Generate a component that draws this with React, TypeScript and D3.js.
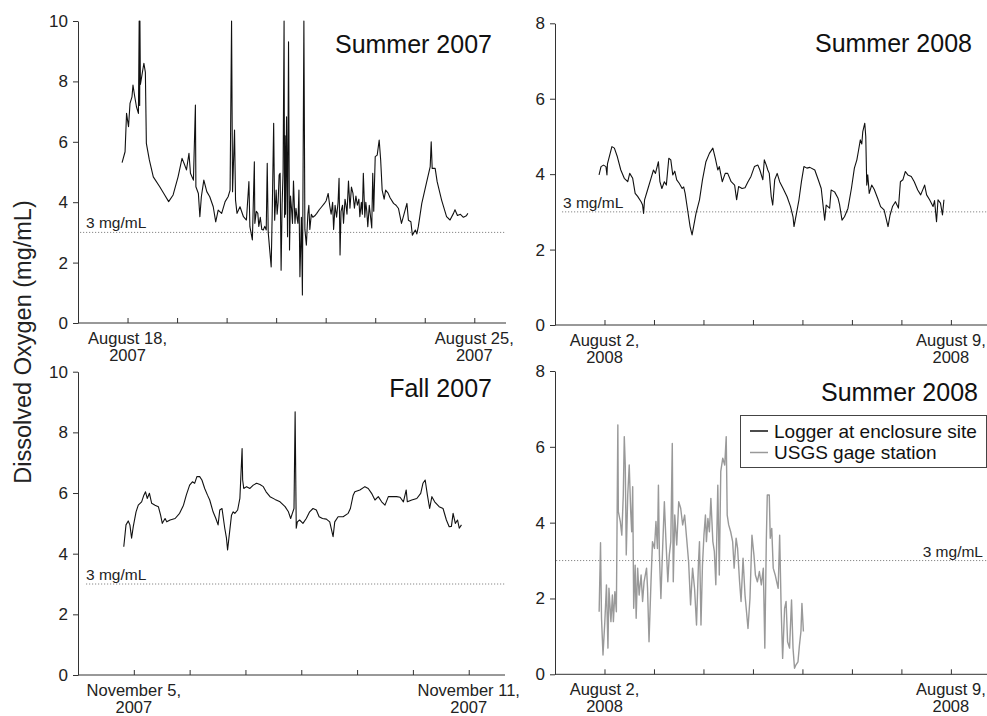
import React, { useEffect, useRef } from 'react';
import { select, scaleLinear, axisLeft, axisBottom, line } from 'd3';

const W = 987;
const H = 716;
const FONT = '"Liberation Sans", Arial, Helvetica, sans-serif';

// [days after first labelled date, dissolved oxygen mg/mL]
const summer2007Logger: [number, number][] = [
  [-0.11, 5.31], [-0.05, 5.67], [-0.02, 6.94], [0.02, 6.5], [0.05, 7.27], [0.09, 7.49], [0.11, 7.88],
  [0.14, 7.55], [0.18, 7.16], [0.22, 6.94], [0.235, 10], [0.245, 7.2], [0.25, 10], [0.26, 7.9],
  [0.33, 8.6], [0.36, 8.3], [0.38, 5.95], [0.44, 5.4], [0.52, 4.84], [0.65, 4.51], [0.75, 4.24],
  [0.83, 4.02], [0.92, 4.24], [1.02, 4.84], [1.1, 5.45], [1.14, 5.29], [1.19, 5.07], [1.24, 5.62],
  [1.27, 4.96], [1.33, 4.73], [1.37, 7.22], [1.38, 4.51], [1.43, 4.29], [1.46, 3.52], [1.49, 4.18],
  [1.54, 4.73], [1.6, 4.35], [1.66, 4.18], [1.73, 3.85], [1.78, 3.35], [1.83, 3.74], [1.9, 3.63],
  [1.97, 4.02], [2.03, 4.18], [2.07, 4.4], [2.1, 10], [2.12, 4.35], [2.16, 6.39], [2.18, 4.07],
  [2.21, 3.63], [2.27, 3.85], [2.34, 3.52], [2.4, 3.41], [2.45, 4.68], [2.47, 3.19], [2.52, 2.75],
  [2.56, 5.34], [2.57, 3.3], [2.6, 3.7], [2.63, 3.63], [2.65, 3.2], [2.68, 3.5], [2.71, 3.1],
  [2.74, 3.08], [2.77, 3.2], [2.8, 3.08], [2.82, 5.29], [2.84, 3.0], [2.87, 2.42], [2.9, 1.86],
  [2.92, 3.6], [2.95, 6.61], [2.97, 3.4], [3.0, 4.4], [3.02, 3.6], [3.04, 4.0], [3.06, 4.9],
  [3.08, 4.96], [3.1, 1.75], [3.12, 3.9], [3.14, 5.0], [3.16, 10], [3.17, 3.5], [3.18, 6.2],
  [3.19, 3.6], [3.21, 6.83], [3.23, 2.86], [3.25, 9.31], [3.27, 2.42], [3.29, 4.2], [3.31, 3.8],
  [3.33, 3.3], [3.35, 4.7], [3.38, 3.3], [3.4, 3.8], [3.42, 3.5], [3.44, 3.3], [3.46, 4.4],
  [3.48, 1.53], [3.51, 3.5], [3.53, 0.93], [3.56, 10], [3.58, 3.1], [3.61, 2.58], [3.64, 3.6],
  [3.66, 3.9], [3.68, 3.1], [3.71, 3.6], [3.74, 3.5], [3.78, 3.55], [3.82, 3.63], [3.87, 3.75],
  [3.92, 3.85], [3.97, 3.95], [4.01, 4.05], [4.05, 4.29], [4.08, 3.9], [4.11, 3.6], [4.14, 4.0],
  [4.16, 3.1], [4.19, 3.9], [4.22, 3.5], [4.25, 4.0], [4.27, 4.79], [4.29, 2.25], [4.31, 3.7],
  [4.34, 3.9], [4.36, 3.3], [4.39, 4.1], [4.41, 3.9], [4.43, 3.6], [4.46, 4.7], [4.49, 3.8],
  [4.52, 4.5], [4.55, 4.3], [4.58, 3.8], [4.61, 4.2], [4.64, 3.9], [4.67, 4.1], [4.69, 3.52],
  [4.72, 4.0], [4.74, 3.6], [4.76, 4.96], [4.79, 3.5], [4.81, 4.0], [4.83, 3.7], [4.85, 3.19],
  [4.88, 3.9], [4.9, 3.6], [4.93, 3.15], [4.95, 4.96], [4.97, 3.7], [5.0, 5.51], [5.04, 5.56],
  [5.08, 6.06], [5.11, 5.4], [5.14, 4.4], [5.18, 4.1], [5.21, 4.4], [5.26, 4.3], [5.3, 4.15],
  [5.37, 3.96], [5.42, 3.9], [5.47, 3.79], [5.53, 3.3], [5.58, 3.6], [5.64, 3.96], [5.67, 3.4],
  [5.72, 3.35], [5.75, 2.91], [5.81, 3.08], [5.84, 2.95], [5.87, 3.19], [5.94, 3.96], [6.04, 4.68],
  [6.11, 5.18], [6.13, 6.0], [6.15, 5.12], [6.21, 5.12], [6.25, 4.68], [6.34, 4.07], [6.44, 3.52],
  [6.51, 3.41], [6.58, 3.63], [6.61, 3.75], [6.66, 3.56], [6.72, 3.6], [6.78, 3.5], [6.84, 3.55],
  [6.87, 3.63],
];

const summer2008Logger: [number, number][] = [
  [-0.11, 3.98], [-0.07, 4.2], [-0.02, 4.24], [0.03, 4.2], [0.05, 3.98], [0.06, 4.27], [0.15, 4.73],
  [0.2, 4.69], [0.26, 4.46], [0.33, 4.11], [0.4, 3.89], [0.47, 3.8], [0.51, 4.02], [0.57, 3.89],
  [0.62, 3.49], [0.67, 3.41], [0.74, 3.27], [0.77, 3.18], [0.79, 2.96], [0.81, 3.32], [0.87, 3.58],
  [0.94, 3.89], [0.99, 4.11], [1.03, 4.02], [1.09, 4.33], [1.12, 3.8], [1.16, 3.62], [1.21, 3.8],
  [1.25, 3.71], [1.3, 4.42], [1.34, 4.38], [1.38, 3.98], [1.42, 4.08], [1.46, 3.85], [1.51, 3.76],
  [1.57, 3.62], [1.6, 3.66], [1.63, 3.49], [1.68, 3.05], [1.73, 2.61], [1.77, 2.39], [1.8, 2.6],
  [1.85, 2.96], [1.92, 3.32], [1.98, 3.85], [2.05, 4.33], [2.12, 4.55], [2.19, 4.69], [2.24, 4.42],
  [2.29, 4.11], [2.32, 4.2], [2.38, 3.8], [2.44, 4.02], [2.49, 4.02], [2.56, 3.8], [2.63, 3.71],
  [2.67, 3.32], [2.71, 3.67], [2.78, 3.62], [2.84, 3.64], [2.9, 3.8], [2.96, 3.94], [3.03, 4.2],
  [3.1, 4.24], [3.14, 4.11], [3.2, 3.85], [3.23, 4.38], [3.27, 4.24], [3.3, 4.11], [3.33, 4.02],
  [3.37, 3.4], [3.4, 3.18], [3.44, 3.85], [3.49, 4.02], [3.54, 3.8], [3.61, 3.62], [3.69, 3.4],
  [3.76, 3.14], [3.81, 2.87], [3.83, 2.61], [3.88, 2.96], [3.93, 3.32], [3.98, 3.8], [4.03, 4.2],
  [4.09, 4.16], [4.15, 4.18], [4.25, 4.11], [4.32, 3.85], [4.38, 3.62], [4.42, 3.14], [4.45, 2.78],
  [4.48, 3.18], [4.55, 3.1], [4.58, 3.58], [4.65, 3.53], [4.72, 3.36], [4.75, 3.2], [4.8, 2.78],
  [4.85, 2.87], [4.92, 3.09], [4.99, 3.62], [5.05, 4.16], [5.1, 4.38], [5.13, 4.6], [5.17, 4.91],
  [5.2, 4.8], [5.22, 5.13], [5.26, 5.35], [5.28, 5.0], [5.3, 3.71], [5.32, 3.98], [5.35, 3.49],
  [5.4, 3.71], [5.45, 3.6], [5.52, 3.36], [5.58, 3.14], [5.65, 3.05], [5.73, 2.61], [5.77, 2.91],
  [5.82, 3.14], [5.88, 3.27], [5.94, 3.1], [5.98, 3.8], [6.03, 3.85], [6.08, 4.07], [6.13, 3.98],
  [6.2, 3.94], [6.26, 3.8], [6.33, 3.58], [6.39, 3.45], [6.47, 3.71], [6.51, 3.45], [6.57, 3.32],
  [6.64, 3.14], [6.67, 3.3], [6.71, 2.74], [6.74, 3.32], [6.79, 3.23], [6.83, 2.92], [6.86, 3.32],
];

const fall2007Logger: [number, number][] = [
  [-0.18, 4.23], [-0.14, 4.95], [-0.1, 5.08], [-0.07, 4.95], [-0.04, 4.51], [-0.01, 4.89], [0.04, 5.38],
  [0.08, 5.6], [0.14, 5.71], [0.18, 5.93], [0.21, 6.04], [0.24, 5.82], [0.28, 5.99], [0.32, 5.66],
  [0.38, 5.6], [0.44, 5.55], [0.48, 5.27], [0.51, 5.0], [0.56, 5.16], [0.59, 5.05], [0.65, 5.11],
  [0.74, 5.16], [0.82, 5.33], [0.89, 5.6], [0.94, 5.93], [1.0, 6.26], [1.05, 6.37], [1.09, 6.32],
  [1.13, 6.54], [1.18, 6.54], [1.22, 6.43], [1.27, 6.15], [1.32, 5.93], [1.36, 5.77], [1.42, 5.38],
  [1.47, 5.16], [1.51, 4.95], [1.54, 5.44], [1.58, 5.49], [1.63, 4.83], [1.66, 4.51], [1.68, 4.12],
  [1.71, 4.62], [1.75, 5.27], [1.78, 5.38], [1.81, 5.33], [1.86, 5.44], [1.9, 5.82], [1.94, 7.47],
  [1.95, 6.43], [1.97, 6.15], [2.02, 6.21], [2.08, 6.15], [2.14, 6.26], [2.2, 6.32], [2.26, 6.28],
  [2.32, 6.21], [2.37, 6.04], [2.44, 5.88], [2.53, 5.79], [2.62, 5.71], [2.71, 5.55], [2.77, 5.38],
  [2.81, 5.16], [2.84, 5.33], [2.87, 5.49], [2.89, 8.68], [2.91, 4.84], [2.93, 5.05], [2.97, 5.11],
  [3.03, 5.0], [3.09, 5.16], [3.15, 5.38], [3.21, 5.49], [3.27, 5.44], [3.32, 5.22], [3.38, 5.16],
  [3.45, 5.14], [3.51, 5.05], [3.57, 4.56], [3.6, 5.05], [3.66, 5.22], [3.75, 5.22], [3.84, 5.33],
  [3.88, 5.49], [3.93, 5.93], [3.96, 6.04], [4.05, 6.1], [4.14, 6.21], [4.2, 6.15], [4.26, 5.99],
  [4.32, 5.77], [4.38, 5.88], [4.44, 5.71], [4.5, 5.6], [4.56, 5.88], [4.62, 5.88], [4.71, 5.88],
  [4.77, 5.86], [4.83, 5.71], [4.88, 6.1], [4.9, 5.71], [4.98, 5.77], [5.07, 5.82], [5.14, 5.99],
  [5.18, 6.32], [5.22, 6.43], [5.26, 5.93], [5.3, 5.49], [5.34, 5.88], [5.39, 5.71], [5.47, 5.55],
  [5.54, 5.49], [5.6, 5.11], [5.65, 4.89], [5.69, 4.9], [5.72, 5.33], [5.76, 5.0], [5.8, 5.11],
  [5.83, 4.84], [5.87, 4.95],
];

const summer2008Usgs: [number, number][] = [
  [-0.108, 1.65], [-0.08, 3.47], [-0.06, 1.48], [-0.03, 0.51], [0.007, 1.39], [0.04, 2.36], [0.07, 0.69],
  [0.09, 2.27], [0.13, 1.39], [0.16, 2.09], [0.18, 1.39], [0.21, 2.18], [0.24, 1.65], [0.27, 6.58],
  [0.28, 4.29], [0.32, 4.03], [0.35, 3.67], [0.38, 4.73], [0.4, 6.27], [0.42, 5.52], [0.44, 3.15],
  [0.47, 4.73], [0.5, 5.52], [0.53, 4.29], [0.55, 3.76], [0.57, 4.95], [0.59, 1.74], [0.62, 2.88],
  [0.64, 1.48], [0.67, 2.8], [0.7, 2.09], [0.74, 2.62], [0.77, 1.92], [0.8, 2.44], [0.85, 2.8],
  [0.87, 2.27], [0.9, 0.86], [0.94, 2.44], [0.97, 3.5], [1.01, 3.32], [1.04, 4.03], [1.07, 3.32],
  [1.09, 4.99], [1.11, 3.15], [1.14, 2.0], [1.17, 3.15], [1.21, 4.55], [1.24, 3.59], [1.28, 2.44],
  [1.31, 3.15], [1.34, 3.5], [1.37, 6.09], [1.39, 2.44], [1.42, 4.2], [1.46, 3.41], [1.5, 4.55],
  [1.54, 4.38], [1.58, 3.94], [1.62, 4.2], [1.66, 3.59], [1.7, 2.97], [1.74, 1.83], [1.78, 2.8],
  [1.82, 2.27], [1.86, 1.3], [1.9, 2.97], [1.92, 3.5], [1.95, 1.3], [1.98, 2.88], [2.01, 3.67],
  [2.04, 4.2], [2.06, 3.5], [2.09, 4.11], [2.12, 3.76], [2.15, 4.64], [2.19, 3.5], [2.22, 3.24],
  [2.25, 2.36], [2.29, 4.99], [2.32, 2.62], [2.35, 5.35], [2.39, 5.7], [2.43, 5.52], [2.46, 6.27],
  [2.48, 4.2], [2.51, 3.94], [2.55, 3.76], [2.59, 3.5], [2.62, 2.8], [2.66, 3.59], [2.69, 3.32],
  [2.73, 2.44], [2.76, 1.92], [2.8, 3.06], [2.84, 2.09], [2.87, 1.65], [2.9, 1.21], [2.94, 2.0],
  [2.98, 3.67], [3.02, 3.15], [3.05, 2.62], [3.09, 2.44], [3.13, 2.71], [3.17, 2.36], [3.21, 2.8],
  [3.24, 0.69], [3.27, 3.5], [3.29, 4.73], [3.33, 4.73], [3.35, 3.59], [3.38, 3.85], [3.41, 2.8],
  [3.45, 2.62], [3.48, 2.44], [3.51, 2.27], [3.54, 3.67], [3.57, 1.74], [3.6, 0.42], [3.64, 1.74],
  [3.67, 1.92], [3.7, 0.86], [3.74, 0.69], [3.78, 1.96], [3.81, 0.69], [3.84, 0.16], [3.87, 0.25],
  [3.91, 0.33], [3.94, 0.77], [3.97, 1.13], [3.99, 1.87], [4.02, 1.13],
];

const yTicks10 = [0, 2, 4, 6, 8, 10];
const yTicks8 = [0, 2, 4, 6, 8];
const dayTicks7 = [0, 1, 2, 3, 4, 5, 6, 7];
const dayTicks6 = [0, 1, 2, 3, 4, 5, 6];
const thresholdValue = 3;
const thresholdLabel = '3 mg/mL';
const legendLabels = ['Logger at enclosure site', 'USGS gage station'];

const panels = [
  {
    title: 'Summer 2007', data: summer2007Logger, color: '#111', width: 1.1,
    x0: 78, x1: 506, dEnd: 7.64, yTop: 21, yBot: 323, yMax: 10, yTicks: yTicks10, dTicks: dayTicks7,
    firstLabel: ['August 18,', '2007'], lastLabel: ['August 25,', '2007'],
    titleX: 492, titleY: 53, labelX: 86, labelAnchor: 'start', dashStart: 80,
  },
  {
    title: 'Summer 2008', data: summer2008Logger, color: '#111', width: 1.1,
    x0: 555, x1: 987, dEnd: 7.73, yTop: 23.3, yBot: 325, yMax: 8, yTicks: yTicks8, dTicks: dayTicks7,
    firstLabel: ['August 2,', '2008'], lastLabel: ['August 9,', '2008'],
    titleX: 972, titleY: 52, labelX: 563, labelAnchor: 'start', dashStart: 562,
  },
  {
    title: 'Fall 2007', data: fall2007Logger, color: '#111', width: 1.1,
    x0: 78, x1: 505, dEnd: 6.65, yTop: 371.7, yBot: 675, yMax: 10, yTicks: yTicks10, dTicks: dayTicks6,
    firstLabel: ['November 5,', '2007'], lastLabel: ['November 11,', '2007'],
    titleX: 492, titleY: 397, labelX: 86, labelAnchor: 'start', dashStart: 86,
  },
  {
    title: 'Summer 2008', data: summer2008Usgs, color: '#999', width: 1.4,
    x0: 555, x1: 987, dEnd: 7.73, yTop: 371, yBot: 674.3, yMax: 8, yTicks: yTicks8, dTicks: dayTicks7,
    firstLabel: ['August 2,', '2008'], lastLabel: ['August 9,', '2008'],
    titleX: 978, titleY: 401, labelX: 983, labelAnchor: 'end', dashStart: 556,
  },
];

const App = () => {
  const svgRef = useRef<SVGSVGElement>(null);

  useEffect(() => {
    const svg = select(svgRef.current);
    svg.selectAll('*').remove();

    panels.forEach((p, i) => {
      const g = svg.append('g');
      const x = scaleLinear().domain([-1, p.dEnd]).range([p.x0, p.x1]);
      const y = scaleLinear().domain([0, p.yMax]).range([p.yBot, p.yTop]);

      // threshold line
      g.append('line')
        .attr('x1', p.dashStart).attr('x2', p.x1)
        .attr('y1', y(thresholdValue)).attr('y2', y(thresholdValue))
        .attr('stroke', '#888').attr('stroke-width', 1).attr('stroke-dasharray', '1.2,1.8');
      g.append('text')
        .attr('x', p.labelX).attr('y', y(thresholdValue) - 4)
        .attr('text-anchor', p.labelAnchor)
        .attr('font-size', 15.5).attr('font-family', FONT).attr('fill', '#222')
        .text(thresholdLabel);

      // series
      const gen = line<[number, number]>().x(d => x(d[0])).y(d => y(d[1]));
      g.append('path')
        .attr('d', gen(p.data))
        .attr('fill', 'none')
        .attr('stroke', p.color)
        .attr('stroke-width', p.width)
        .attr('stroke-linejoin', 'round');

      // y axis
      const ya = g.append('g')
        .attr('transform', `translate(${p.x0},0)`)
        .call(axisLeft(y).tickValues(p.yTicks).tickSize(5).tickSizeOuter(0).tickPadding(5));
      ya.selectAll('text').attr('font-size', 17).attr('font-family', FONT).attr('fill', '#222');

      // x axis, ticks pointing up
      const xa = g.append('g')
        .attr('transform', `translate(0,${p.yBot})`)
        .call(axisBottom(x).tickValues(p.dTicks).tickSizeInner(-5).tickSizeOuter(0).tickFormat(() => ''));
      [ya, xa].forEach(a => {
        a.selectAll('path, line').attr('stroke', '#333');
      });
      xa.select('.domain').attr('d', `M${p.x0},0H${p.x1}`);

      const lab = (d: number, lines: string[]) => {
        const t = g.append('text')
          .attr('x', x(d)).attr('y', p.yBot + 21)
          .attr('text-anchor', 'middle')
          .attr('font-size', 16.5).attr('font-family', FONT).attr('fill', '#222');
        lines.forEach((s, k) => {
          t.append('tspan').attr('x', x(d)).attr('dy', k === 0 ? 0 : 17).text(s);
        });
      };
      lab(p.dTicks[0], p.firstLabel);
      lab(p.dTicks[p.dTicks.length - 1], p.lastLabel);

      g.append('text')
        .attr('x', p.titleX).attr('y', p.titleY)
        .attr('text-anchor', 'end')
        .attr('font-size', 25).attr('font-family', FONT).attr('fill', '#111')
        .text(p.title);

      if (i === 3) {
        const lg = g.append('g');
        lg.append('rect')
          .attr('x', 740.5).attr('y', 415.5).attr('width', 246).attr('height', 52)
          .attr('fill', 'white').attr('stroke', '#444').attr('stroke-width', 1);
        legendLabels.forEach((s, k) => {
          const cy = 431 + k * 21.5;
          lg.append('line')
            .attr('x1', 750).attr('x2', 768).attr('y1', cy).attr('y2', cy)
            .attr('stroke', k === 0 ? '#111' : '#999').attr('stroke-width', 1.5);
          lg.append('text')
            .attr('x', 774).attr('y', cy + 6.5)
            .attr('font-size', 19).attr('font-family', FONT).attr('fill', '#111')
            .text(s);
        });
      }
    });

    svg.append('text')
      .attr('transform', 'translate(31,342) rotate(-90)')
      .attr('text-anchor', 'middle')
      .attr('font-size', 23.5).attr('font-family', FONT).attr('fill', '#222')
      .text('Dissolved Oxygen (mg/mL)');
  }, []);

  return (
    <svg
      ref={svgRef}
      width={W}
      height={H}
      style={{ position: 'absolute', left: 0, top: 0, background: 'white' }}
    />
  );
};

export default App;
